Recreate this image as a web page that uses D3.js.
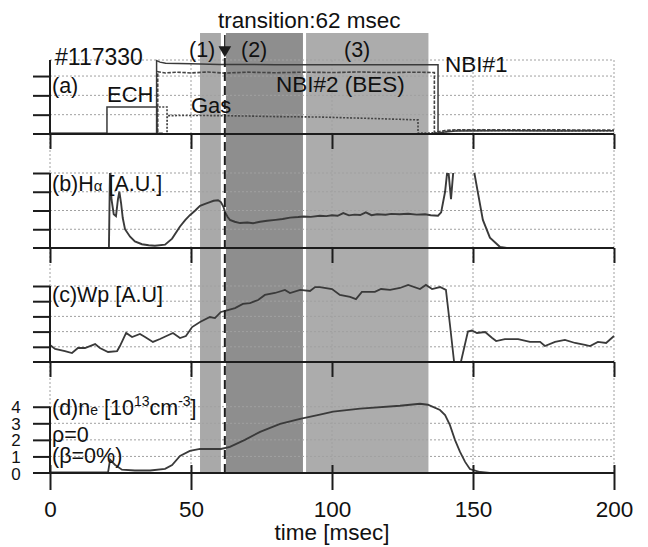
<!DOCTYPE html>
<html>
<head>
<meta charset="utf-8">
<script src="https://cdn.jsdelivr.net/npm/d3@7"></script>
<style>
  body { margin: 0; background: #fff; }
  svg text { font-family: "Liberation Sans", Arial, sans-serif; fill: #111; }
</style>
</head>
<body>
<svg id="chart" width="648" height="547"></svg>
<script>
// ---- data (time in msec, signals in panel units) ----
const timeTicks = [0, 50, 100, 150, 200];
const phases = [[53.2, 60.6], [62.4, 89.7], [90.8, 134.2]];
const phaseNames = ["(1)", "(2)", "(3)"];
const transitionTime = 62;

// (a) heating / fuelling waveforms
const echWave = [[0, 0.04], [20.2, 0.04], [20.2, 1.4], [37.9, 1.4], [37.9, 0.04], [40, 0.04]];
const nbi1Wave = [[0, 0.03], [37.8, 0.03], [37.8, 3.8], [39, 3.72], [41, 3.66], [50, 3.63], [60, 3.6],
  [80, 3.59], [100, 3.58], [120, 3.58], [137.6, 3.58], [137.6, 0.04], [140, 0.1], [144, 0.16],
  [160, 0.17], [180, 0.16], [200, 0.17]];
const nbi2Wave = [[38.2, 0.1], [38.2, 3.22], [41, 3.16], [45, 3.2], [50, 3.16], [56, 3.21], [62, 3.15],
  [70, 3.2], [80, 3.17], [90, 3.2], [100, 3.18], [110, 3.21], [120, 3.18], [130, 3.2], [136.3, 3.18],
  [136.3, 0.08], [140, 0.18], [144, 0.22], [170, 0.22], [200, 0.2]];
const gasWave = [[37.9, 0.05], [37.9, 1.4], [41.5, 1.4], [41.5, 0.05], [41.6, 0.95], [50, 0.96],
  [60, 0.95], [70, 0.93], [80, 0.9], [95, 0.88], [105, 0.84], [115, 0.8], [124, 0.76], [130.5, 0.73],
  [130.5, 0.05], [138, 0.06], [141, 0.14], [145, 0.19], [170, 0.18], [200, 0.17]];

// (b) H-alpha
const hAlpha = [[20.9, 0], [21.3, 4.5], [21.8, 2.6], [22.6, 1.8], [23.4, 1.7], [24.1, 2.6], [24.6, 3.0],
  [25.2, 2.4], [25.8, 1.6], [26.6, 1.0], [28.4, 0.6], [30.1, 0.35], [32.6, 0.2], [35, 0.15], [37.2, 0.12],
  [40.8, 0.18], [43.3, 0.5], [46.1, 1.15], [48, 1.5], [49.6, 1.75], [51.5, 2.0], [53.2, 2.25], [55, 2.35],
  [56.7, 2.45], [58, 2.52], [59.6, 2.55], [60.6, 2.45], [61.5, 2.2], [62.1, 1.9], [63, 1.65], [63.8, 1.5],
  [65.5, 1.4], [67.4, 1.33], [70, 1.36], [72, 1.32], [74.5, 1.4], [77, 1.45], [80, 1.5], [82.5, 1.55],
  [85.1, 1.62], [88, 1.65], [90, 1.68], [92.5, 1.66], [95.7, 1.72], [98, 1.7], [100, 1.75], [102, 1.72],
  [104, 1.86], [106, 1.74], [108, 1.78], [110, 1.76], [112, 1.9], [114, 1.75], [116, 1.8], [119, 1.77],
  [121, 1.82], [124, 1.8], [127, 1.83], [130, 1.78], [133, 1.8], [135, 1.75], [137.6, 1.72], [138.7, 1.9],
  [140.1, 3.0], [141.1, 4.4], [142.2, 2.6], [143.3, 4.6], [145, 6.5], [149, 6.5], [150, 4.4], [151.8, 2.9],
  [153.5, 1.5], [156, 0.55], [159.6, 0.05], [162, 0]];

// (c) stored energy Wp
const wp = [[0, 1.12], [1.8, 0.86], [5.3, 0.72], [7.8, 0.59], [9.9, 0.92], [12.4, 0.92], [16.0, 1.18],
  [17.7, 0.92], [20.6, 0.66], [23.8, 0.72], [24.8, 1.05], [27.0, 1.91], [29.1, 1.64], [31.9, 1.84],
  [33.7, 1.64], [36.5, 1.32], [39.0, 1.51], [43.6, 1.91], [46.1, 1.58], [48.2, 1.71], [50.4, 2.3],
  [53.2, 2.63], [56.7, 2.96], [58.5, 2.89], [60.6, 3.29], [62.1, 3.36], [65.6, 3.55], [68.4, 3.82],
  [70.9, 3.88], [73.8, 4.08], [76.2, 4.41], [79.8, 4.54], [83.3, 4.74], [85.1, 4.54], [88.7, 4.74],
  [92.2, 4.67], [94.0, 4.93], [95.7, 4.93], [100, 4.8], [102.8, 4.41], [106.4, 4.28], [108.5, 4.14],
  [110.6, 4.61], [115.2, 4.61], [117.4, 4.8], [120.6, 4.74], [124.1, 4.87], [127.0, 5.07], [131.2, 4.8],
  [133.3, 5.07], [135.5, 4.8], [138.3, 4.93], [140.4, 4.74], [141.8, 2.5], [143.3, 0.0], [145.7, 0.0],
  [148.2, 2.0], [149.6, 2.07], [151.4, 1.91], [154.3, 1.97], [156.7, 1.6], [158.2, 1.38], [161.3, 1.51],
  [166, 1.51], [170.2, 1.32], [173.8, 1.32], [175.5, 1.05], [179.1, 1.32], [182.6, 1.45], [186.2, 1.25],
  [189.7, 1.12], [191.5, 1.05], [194.3, 1.32], [197.2, 1.25], [200, 1.71]];

// (d) central electron density, 1e13 cm^-3
const ne0 = [[0, 0.03], [20.6, 0.05], [21.3, 0.8], [23, 0.5], [25.5, 0.2], [30.1, 0.15], [35.5, 0.15],
  [40.8, 0.25], [43.3, 0.48], [46.1, 1.03], [49.6, 1.33], [53.2, 1.45], [60.6, 1.45], [63.8, 1.58],
  [69.1, 2.0], [74.5, 2.48], [81.6, 2.97], [88.7, 3.27], [95.7, 3.52], [100.4, 3.7], [110, 3.88],
  [124.1, 4.06], [131.2, 4.18], [134, 4.12], [138.3, 3.8], [140.1, 3.5], [141.8, 2.9], [143.6, 2.0],
  [145.4, 1.27], [147.2, 0.67], [148.9, 0.24], [152.5, 0.06], [156, 0.0], [200, 0.0]];

// ---- layout ----
const panels = [
  { id: "a", top: 60, bottom: 134, max: 3.83, ticks: [1, 2, 3] },
  { id: "b", top: 134, bottom: 248, max: 6.08, ticks: [1, 2, 3, 4] },
  { id: "c", top: 248, bottom: 362, max: 7.5, ticks: [1, 2, 3, 4, 5] },
  { id: "d", top: 362, bottom: 473, max: 6.7, ticks: [0, 1, 2, 3, 4] }
];
const ink = "#1c1c1c";
const trace = "#3a3a3a";
const phaseFills = ["#a9a9a9", "#8e8e8e", "#acacac"];
const fontFam = "'Liberation Sans', Arial, sans-serif";

const svg = d3.select("#chart");
const x = d3.scaleLinear().domain([0, 200]).range([50, 614]);
const y = {};
panels.forEach(p => {
  y[p.id] = d3.scaleLinear().domain([0, p.max]).range([p.bottom, p.top]);
});

// shaded phases
svg.append("g").selectAll("rect")
  .data(phases)
  .join("rect")
  .attr("x", d => x(d[0]))
  .attr("width", d => x(d[1]) - x(d[0]))
  .attr("y", 33)
  .attr("height", 473 - 33)
  .attr("fill", (d, i) => phaseFills[i]);

// dotted grid
const grid = svg.append("g")
  .attr("stroke", "#a0a0a0")
  .attr("stroke-width", 1)
  .attr("stroke-dasharray", "2,2");
panels.forEach(p => {
  const hv = p.id === "a" ? p.ticks.concat([p.max]) : p.ticks.filter(t => t > 0);
  grid.selectAll(null).data(hv).join("line")
    .attr("x1", x(0)).attr("x2", x(200))
    .attr("y1", d => y[p.id](d)).attr("y2", d => y[p.id](d));
  grid.selectAll(null).data(timeTicks).join("line")
    .attr("x1", d => x(d)).attr("x2", d => x(d))
    .attr("y1", p.top).attr("y2", p.bottom);
});

// traces
const lineFor = id => d3.line().x(d => x(d[0])).y(d => y[id](d[1]));

svg.append("defs").append("clipPath").attr("id", "clipB")
  .append("rect")
  .attr("x", x(0)).attr("width", x(200) - x(0))
  .attr("y", y.b(4)).attr("height", y.b(0) - y.b(4) + 2);

const traces = svg.append("g").attr("fill", "none").attr("stroke", trace);
traces.append("path").attr("d", lineFor("a")(gasWave))
  .attr("stroke", "#444").attr("stroke-width", 1.6).attr("stroke-dasharray", "2,1.5");
traces.append("path").attr("d", lineFor("a")(nbi2Wave))
  .attr("stroke", "#444").attr("stroke-width", 1.6).attr("stroke-dasharray", "3.5,1.5");
traces.append("path").attr("d", lineFor("a")(echWave)).attr("stroke-width", 1.5);
traces.append("path").attr("d", lineFor("a")(nbi1Wave)).attr("stroke-width", 1.5);
traces.append("path").attr("d", lineFor("b")(hAlpha))
  .attr("stroke-width", 1.9).attr("clip-path", "url(#clipB)");
traces.append("path").attr("d", lineFor("c")(wp)).attr("stroke-width", 1.8);
traces.append("path").attr("d", lineFor("d")(ne0)).attr("stroke-width", 1.8);

// transition marker
svg.append("line")
  .attr("x1", x(transitionTime)).attr("x2", x(transitionTime))
  .attr("y1", 58).attr("y2", 473)
  .attr("stroke", ink).attr("stroke-width", 2).attr("stroke-dasharray", "9,5");
svg.append("line")
  .attr("x1", x(transitionTime)).attr("x2", x(transitionTime))
  .attr("y1", 35).attr("y2", 48)
  .attr("stroke", ink).attr("stroke-width", 1.5);
svg.append("path")
  .attr("d", d3.symbol(d3.symbolTriangle, 70)())
  .attr("transform", `translate(${x(transitionTime)},50) rotate(180)`)
  .attr("fill", ink);

// frame: panel boundaries, left axes, ticks
const frame = svg.append("g").attr("stroke", ink).attr("stroke-width", 2).attr("fill", "none");
panels.forEach(p => {
  frame.append("line")
    .attr("x1", 33).attr("x2", x(200))
    .attr("y1", p.bottom).attr("y2", p.bottom);
  const topTick = p.id === "a" ? p.top : y[p.id](d3.max(p.ticks));
  frame.append("line")
    .attr("x1", x(0)).attr("x2", x(0))
    .attr("y1", topTick).attr("y2", p.bottom);

  const left = svg.append("g")
    .attr("transform", `translate(${x(0)},0)`)
    .call(d3.axisLeft(y[p.id]).tickValues(p.ticks.filter(t => t > 0)).tickSize(17).tickFormat(""));
  left.select(".domain").remove();
  left.selectAll(".tick line").attr("stroke", ink).attr("stroke-width", 2);

  if (p.id !== "a") {
    const topAx = svg.append("g")
      .attr("transform", `translate(0,${p.top})`)
      .call(d3.axisBottom(x).tickValues(timeTicks).tickSize(15).tickFormat(""));
    topAx.select(".domain").remove();
    topAx.selectAll(".tick line").attr("stroke", ink).attr("stroke-width", 2);
  }
});

// density tick labels (d)
const dLabels = svg.append("g")
  .attr("transform", `translate(${x(0)},0)`)
  .call(d3.axisLeft(y.d).tickValues(panels[3].ticks).tickSize(0).tickPadding(34).tickFormat(d3.format("d")));
dLabels.select(".domain").remove();
dLabels.selectAll("text")
  .attr("font-size", 17).attr("text-anchor", "middle").attr("dy", "0.36em")
  .style("font-family", fontFam).attr("fill", "#111");

// time axis
const xAxisG = svg.append("g")
  .attr("transform", "translate(0,473)")
  .call(d3.axisBottom(x).tickValues(timeTicks).tickSize(17).tickPadding(11));
xAxisG.select(".domain").remove();
xAxisG.selectAll(".tick line").attr("stroke", ink).attr("stroke-width", 2).attr("y1", -8);
xAxisG.selectAll("text").attr("font-size", 22.5).attr("fill", "#111")
  .style("font-family", fontFam);

svg.append("text").attr("x", 332).attr("y", 540).attr("text-anchor", "middle")
  .attr("font-size", 22.5).text("time [msec]");

// annotations
const note = (tx, ty, s, size) => svg.append("text").attr("x", tx).attr("y", ty)
  .attr("font-size", size || 22).text(s);

note(218, 28, "transition:62 msec", 22.5);
const phaseLabelX = [189, 241, 344];
phaseNames.forEach((s, i) => note(phaseLabelX[i], 57, s, 21.5));
note(55, 65, "#117330", 23);
note(52, 93, "(a)", 21.5);
note(107, 102, "ECH", 22);
note(191, 113, "Gas", 22);
note(276, 92, "NBI#2 (BES)", 22.5);
note(445, 72, "NBI#1", 22.5);

const lb = svg.append("text").attr("x", 52).attr("y", 191).attr("font-size", 21.5);
lb.append("tspan").text("(b)H");
lb.append("tspan").attr("font-size", 15).text("α");
lb.append("tspan").text(" [A.U.]");

note(52, 302, "(c)Wp [A.U]", 21.5);

const ld = svg.append("text").attr("x", 52).attr("y", 415).attr("font-size", 21.5);
ld.append("tspan").text("(d)n");
ld.append("tspan").attr("font-size", 14).text("e");
ld.append("tspan").text(" [10");
ld.append("tspan").attr("font-size", 14).attr("dy", -9).text("13");
ld.append("tspan").attr("dy", 9).text("cm");
ld.append("tspan").attr("font-size", 14).attr("dy", -9).text("-3");
ld.append("tspan").attr("dy", 9).text("]");

note(52, 442, "ρ=0", 21.5);
note(52, 463, "(β=0%)", 21.5);
</script>
</body>
</html>
